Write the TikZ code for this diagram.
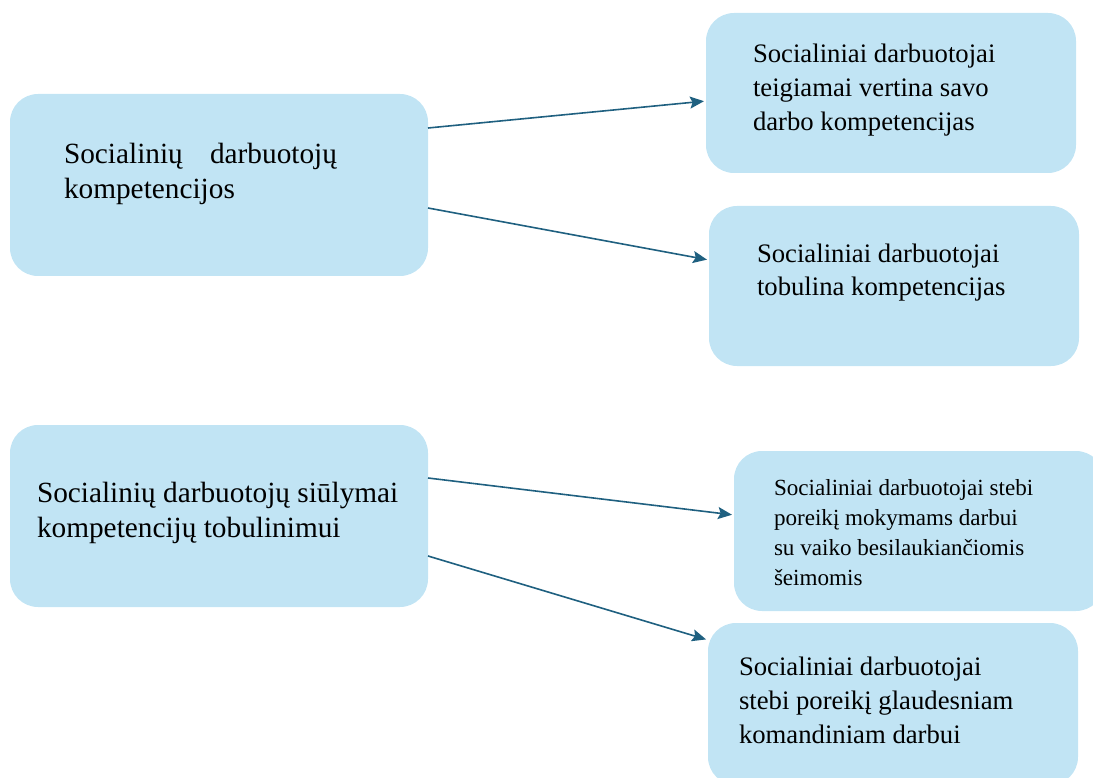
\documentclass[tikz,border=0pt]{standalone}
\usepackage{fontspec}
\setmainfont{Liberation Serif}
\usetikzlibrary{arrows.meta}

\definecolor{boxfill}{RGB}{193,228,244}
\definecolor{arrowcol}{RGB}{31,96,128}

\tikzset{
  box/.style={fill=boxfill, draw=none, rounded corners=28pt, inner sep=0pt, outer sep=0pt},
  leftbox/.style={box, minimum width=418pt, minimum height=182pt},
  rightbox/.style={box, minimum width=370pt, minimum height=160pt},
  txt/.style={anchor=base west, inner sep=0pt, outer sep=0pt, text=black},
  bigtxt/.style={txt, font=\fontsize{29.3}{35}\selectfont},
  midtxt/.style={txt, font=\fontsize{26.7}{34}\selectfont},
  smalltxt/.style={txt, font=\fontsize{23.1}{30}\selectfont},
  link/.style={draw=arrowcol, line width=1.6pt, shorten >=2pt,
    -{Stealth[length=14pt,width=12pt,inset=2.5pt]}}
}

\begin{document}
\begin{tikzpicture}[x=1pt,y=-1pt]
  \useasboundingbox (0,0) rectangle (1093,778);
  \clip (0,0) rectangle (1093,778);

  % boxes
  \node[leftbox]  (A) at (219,185) {};
  \node[rightbox] (B) at (891,93) {};
  \node[rightbox] (C) at (894,286) {};
  \node[leftbox]  (D) at (219,516) {};
  \node[rightbox] (E) at (919,531) {};
  \node[rightbox, minimum height=162pt] (F) at (893,704) {};

  % texts
  \node[bigtxt] (tA) at (64,164) {\parbox[t]{340pt}{\raggedright
    \makebox[273pt][s]{Socialinių\hfill darbuotojų}\\kompetencijos}};
  \node[midtxt] (tB) at (753,63) {\parbox[t]{320pt}{\raggedright
    Socialiniai darbuotojai\\teigiamai vertina savo\\darbo kompetencijas}};
  \node[midtxt] (tC) at (757,262) {\parbox[t]{320pt}{\raggedright
    Socialiniai darbuotojai\\tobulina kompetencijas}};
  \node[bigtxt] (tD) at (37,502) {\parbox[t]{380pt}{\raggedright
    Socialinių darbuotojų siūlymai\\kompetencijų tobulinimui}};
  \node[smalltxt] (tE) at (774,495) {\parbox[t]{320pt}{\raggedright
    Socialiniai darbuotojai stebi\\poreikį mokymams darbui\\su vaiko besilaukiančiomis\\šeimomis}};
  \node[midtxt] (tF) at (739,675) {\parbox[t]{330pt}{\raggedright
    Socialiniai darbuotojai\\stebi poreikį glaudesniam\\komandiniam darbui}};

  % connectors
  \draw[link] ([yshift=57pt]A.east) -- ([yshift=-8pt]B.west);
  \draw[link] ([yshift=-23pt]A.east) -- ([yshift=26pt]C.west);
  \draw[link] ([yshift=38pt]D.east) -- ([yshift=16pt]E.west);
  \draw[link] ([yshift=-40pt]D.east) -- ([yshift=64pt]F.west);
\end{tikzpicture}
\end{document}
